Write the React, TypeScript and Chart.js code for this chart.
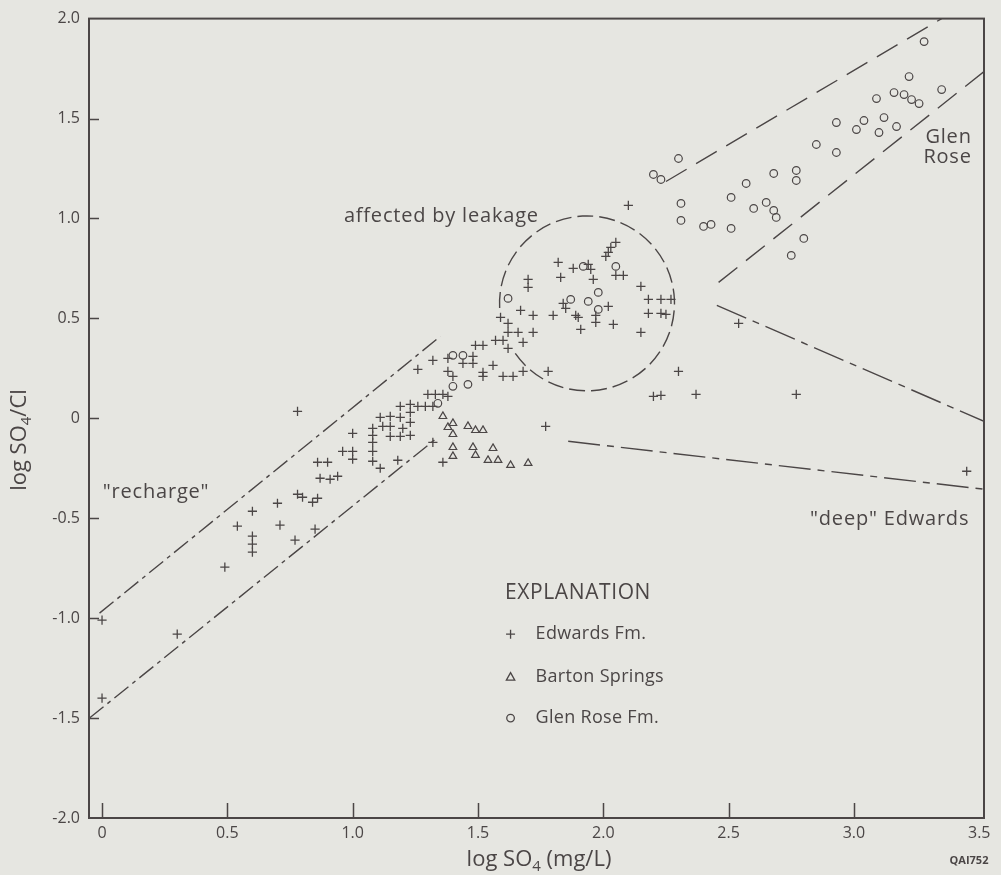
import React, { useEffect, useRef } from "react";
import { Chart, registerables } from "chart.js";

Chart.register(...registerables);

// ---------------- data ----------------
const edwardsFm: [number, number][] = [
  [0.0, -1.01], [0.0, -1.4], [0.3, -1.08], [0.49, -0.745], [0.54, -0.54], [0.6, -0.465], [0.6, -0.59], [0.6, -0.63], [0.6, -0.67],
  [0.7, -0.425], [0.71, -0.535], [0.77, -0.61], [0.78, 0.035], [0.78, -0.38], [0.8, -0.395], [0.84, -0.42], [0.86, -0.4], [0.85, -0.555],
  [0.86, -0.22], [0.9, -0.22], [0.87, -0.3], [0.91, -0.305], [0.94, -0.29], [0.96, -0.165], [1.0, -0.165], [1.0, -0.205], [1.0, -0.075],
  [1.08, -0.05], [1.08, -0.085], [1.08, -0.12], [1.08, -0.165], [1.08, -0.215], [1.11, -0.25], [1.18, -0.21], [1.11, 0.005], [1.15, 0.01],
  [1.19, 0.005], [1.12, -0.04], [1.15, -0.04], [1.15, -0.09], [1.19, -0.09], [1.23, -0.085], [1.2, -0.05], [1.19, 0.06], [1.23, 0.07],
  [1.26, 0.06], [1.29, 0.06], [1.32, 0.06], [1.23, 0.03], [1.23, -0.02], [1.32, -0.12], [1.36, -0.22], [1.26, 0.245], [1.32, 0.29],
  [1.38, 0.3], [1.38, 0.235], [1.4, 0.21], [1.3, 0.12], [1.33, 0.12], [1.36, 0.12], [1.38, 0.11], [1.48, 0.31], [1.48, 0.275],
  [1.44, 0.275], [1.52, 0.23], [1.52, 0.21], [1.56, 0.265], [1.6, 0.21], [1.64, 0.21], [1.68, 0.235], [1.78, 0.235], [1.49, 0.365],
  [1.52, 0.365], [1.57, 0.39], [1.6, 0.39], [1.62, 0.35], [1.68, 0.38], [1.62, 0.43], [1.66, 0.43], [1.72, 0.43], [1.62, 0.475],
  [1.59, 0.505], [1.67, 0.54], [1.72, 0.515], [1.8, 0.515], [1.84, 0.575], [1.85, 0.55], [1.89, 0.515], [1.9, 0.505], [1.91, 0.445],
  [1.97, 0.515], [1.97, 0.48], [2.02, 0.56], [2.04, 0.47], [1.82, 0.78], [1.88, 0.75], [1.94, 0.77], [1.95, 0.745], [1.83, 0.705],
  [1.96, 0.695], [1.7, 0.695], [1.7, 0.655], [2.05, 0.88], [2.03, 0.855], [2.02, 0.83], [2.01, 0.81], [2.05, 0.715], [2.08, 0.715],
  [2.15, 0.66], [2.15, 0.43], [2.18, 0.595], [2.23, 0.595], [2.27, 0.595], [2.18, 0.525], [2.23, 0.525], [2.25, 0.52], [2.1, 1.065],
  [2.3, 0.235], [2.2, 0.11], [2.23, 0.115], [2.37, 0.12], [2.54, 0.475], [2.77, 0.12], [3.45, -0.265], [1.77, -0.04],
];

const bartonSprings: [number, number][] = [
  [1.36, 0.01], [1.38, -0.045], [1.4, -0.025], [1.4, -0.08], [1.46, -0.04], [1.49, -0.06], [1.52, -0.06], [1.4, -0.145],
  [1.4, -0.19], [1.48, -0.145], [1.49, -0.185], [1.56, -0.15], [1.54, -0.21], [1.58, -0.21], [1.63, -0.235], [1.7, -0.225],
];

const glenRoseFm: [number, number][] = [
  [1.4, 0.315], [1.44, 0.315], [1.4, 0.16], [1.46, 0.17], [1.34, 0.075], [1.62, 0.6], [1.92, 0.76], [2.05, 0.76], [1.98, 0.63],
  [1.87, 0.595], [1.94, 0.585], [1.98, 0.545], [2.31, 1.075], [2.31, 0.99], [2.4, 0.96], [2.43, 0.97], [2.3, 1.3], [2.2, 1.22],
  [2.23, 1.195], [2.51, 1.105], [2.51, 0.95], [2.57, 1.175], [2.6, 1.05], [2.65, 1.08], [2.68, 1.04], [2.69, 1.005], [2.68, 1.225],
  [2.77, 1.24], [2.77, 1.19], [2.8, 0.9], [2.75, 0.815], [2.85, 1.37], [2.93, 1.48], [2.93, 1.33], [3.04, 1.49], [3.01, 1.445],
  [3.12, 1.505], [3.1, 1.43], [3.17, 1.46], [3.09, 1.6], [3.16, 1.63], [3.2, 1.62], [3.23, 1.595], [3.26, 1.575], [3.22, 1.71],
  [3.35, 1.645], [3.28, 1.885],
];

// boundary lines (endpoints in data units)
const rechargeUpper: [number, number][] = [[-0.01, -0.975], [1.35, 0.41]];
const rechargeLower: [number, number][] = [[-0.05, -1.5], [1.33, -0.105]];
const glenRoseUpper: [number, number][] = [[2.25, 1.185], [3.35, 2.0]];
const glenRoseLower: [number, number][] = [[2.46, 0.68], [3.519, 1.735]];
const deepUpper: [number, number][] = [[2.453, 0.565], [3.519, -0.015]];
const deepLower: [number, number][] = [[1.86, -0.115], [3.519, -0.355]];

// leakage ellipse (data units), gap in canvas degrees
const leakageCenter = [1.935, 0.575];
const leakageRadius = [0.349, 0.4375];
const leakageGapDeg = [148, 177];

const xTickValues = [0, 0.5, 1.0, 1.5, 2.0, 2.5, 3.0, 3.5];
const yTickValues = [-2.0, -1.5, -1.0, -0.5, 0, 0.5, 1.0, 1.5, 2.0];
const xTickMarks = [0, 0.5, 1.0, 1.5, 2.0, 2.5, 3.0];
const yTickMarks = [-1.5, -1.0, -0.5, 0, 0.5, 1.0, 1.5];

const xLimits = [-0.052, 3.519];
const yLimits = [-2.0, 2.0];

const annotations = [
  { text: "affected by leakage", x: 0.965, y: 1.01, align: "left" },
  { text: "\"recharge\"", x: 0.003, y: -0.37, align: "left" },
  { text: "\"deep\" Edwards", x: 2.825, y: -0.505, align: "left" },
  { text: "Glen", x: 3.47, y: 1.405, align: "right" },
  { text: "Rose", x: 3.47, y: 1.305, align: "right" },
];

const legendTitle = { text: "EXPLANATION", x: 1.608, y: -0.875 };
const legendItems = [
  { label: "Edwards Fm.", marker: "cross", y: -1.08 },
  { label: "Barton Springs", marker: "triangle", y: -1.295 },
  { label: "Glen Rose Fm.", marker: "circle", y: -1.5 },
];
const legendMarkerX = 1.63;
const legendTextX = 1.73;

// ---------------- styles ----------------
const FONT = '"Open Sans", "DejaVu Sans", sans-serif';
const INK = "#4b4646";
const PAPER = "#e6e6e1";
const W = 1001;
const H = 875;

type Run = { t: string; sub?: boolean };

function drawRuns(ctx: CanvasRenderingContext2D, runs: Run[], x: number, y: number, size: number, align: string) {
  const widths = runs.map((r) => {
    ctx.font = `${r.sub ? Math.round(size * 0.7) : size}px ${FONT}`;
    return ctx.measureText(r.t).width;
  });
  const total = widths.reduce((a, b) => a + b, 0);
  let cx = align === "center" ? x - total / 2 : align === "right" ? x - total : x;
  ctx.textAlign = "left";
  ctx.textBaseline = "middle";
  runs.forEach((r, i) => {
    ctx.font = `${r.sub ? Math.round(size * 0.7) : size}px ${FONT}`;
    ctx.fillText(r.t, cx, r.sub ? y + size * 0.32 : y);
    cx += widths[i];
  });
}

function drawMarker(ctx: CanvasRenderingContext2D, kind: string, x: number, y: number) {
  ctx.beginPath();
  if (kind === "cross") {
    ctx.moveTo(x - 4.5, y);
    ctx.lineTo(x + 4.5, y);
    ctx.moveTo(x, y - 4.5);
    ctx.lineTo(x, y + 4.5);
  } else if (kind === "triangle") {
    ctx.moveTo(x, y - 4.5);
    ctx.lineTo(x + 4.2, y + 3);
    ctx.lineTo(x - 4.2, y + 3);
    ctx.closePath();
  } else {
    ctx.arc(x, y, 3.8, 0, Math.PI * 2);
  }
  ctx.stroke();
}

const overlayPlugin = {
  id: "overlay",
  beforeDraw(chart: any) {
    const ctx = chart.ctx;
    ctx.save();
    ctx.fillStyle = PAPER;
    ctx.fillRect(0, 0, chart.width, chart.height);
    ctx.restore();
  },
  afterDatasetsDraw(chart: any) {
    const ctx: CanvasRenderingContext2D = chart.ctx;
    const xs = chart.scales.x;
    const ys = chart.scales.y;
    const { left, right, top, bottom } = chart.chartArea;
    ctx.save();
    ctx.strokeStyle = INK;
    ctx.fillStyle = INK;

    // frame
    ctx.lineWidth = 2;
    ctx.setLineDash([]);
    ctx.strokeRect(left, top, right - left, bottom - top);

    // inward tick marks
    ctx.lineWidth = 1.5;
    ctx.beginPath();
    xTickMarks.forEach((v) => {
      const px = Math.round(xs.getPixelForValue(v)) + 0.5;
      ctx.moveTo(px, bottom);
      ctx.lineTo(px, bottom - 15);
    });
    yTickMarks.forEach((v) => {
      const py = Math.round(ys.getPixelForValue(v)) + 0.5;
      ctx.moveTo(left, py);
      ctx.lineTo(left + 10, py);
    });
    ctx.stroke();

    // leakage ellipse
    const cx = xs.getPixelForValue(leakageCenter[0]);
    const cy = ys.getPixelForValue(leakageCenter[1]);
    const rx = Math.abs(xs.getPixelForValue(leakageCenter[0] + leakageRadius[0]) - cx);
    const ry = Math.abs(ys.getPixelForValue(leakageCenter[1] + leakageRadius[1]) - cy);
    ctx.lineWidth = 1.4;
    ctx.setLineDash([16, 6]);
    ctx.beginPath();
    ctx.ellipse(cx, cy, rx, ry, 0, (leakageGapDeg[1] * Math.PI) / 180, (leakageGapDeg[0] * Math.PI) / 180);
    ctx.stroke();
    ctx.setLineDash([]);

    // annotations
    (ctx as any).letterSpacing = "0.8px";
    annotations.forEach((a) => {
      drawRuns(ctx, [{ t: a.text }], xs.getPixelForValue(a.x), ys.getPixelForValue(a.y), 20, a.align);
    });
    (ctx as any).letterSpacing = "0px";

    // legend
    (ctx as any).letterSpacing = "0.6px";
    drawRuns(ctx, [{ t: legendTitle.text }], xs.getPixelForValue(legendTitle.x), ys.getPixelForValue(legendTitle.y), 21, "left");
    (ctx as any).letterSpacing = "0.3px";
    ctx.lineWidth = 1.3;
    legendItems.forEach((it) => {
      const py = ys.getPixelForValue(it.y);
      drawMarker(ctx, it.marker, xs.getPixelForValue(legendMarkerX), py);
      drawRuns(ctx, [{ t: it.label }], xs.getPixelForValue(legendTextX), py, 18, "left");
    });
    (ctx as any).letterSpacing = "0px";

    // axis titles
    drawRuns(ctx, [{ t: "log SO" }, { t: "4", sub: true }, { t: " (mg/L)" }], 539, 860, 22, "center");
    ctx.save();
    ctx.translate(20, 440);
    ctx.rotate(-Math.PI / 2);
    drawRuns(ctx, [{ t: "log SO" }, { t: "4", sub: true }, { t: "/Cl" }], 0, 0, 22, "center");
    ctx.restore();

    // figure id
    ctx.font = `bold 11px ${FONT}`;
    ctx.textAlign = "center";
    ctx.textBaseline = "middle";
    ctx.fillText("QAI752", 969, 861);

    ctx.restore();
  },
};

const toXY = (pts: [number, number][]) => pts.map(([x, y]) => ({ x, y }));

const lineDs = (pts: [number, number][], dash: number[]) => ({
  data: toXY(pts),
  showLine: true,
  borderColor: INK,
  borderWidth: 1.4,
  borderDash: dash,
  pointRadius: 0,
  fill: false,
});

const fmt = (v: number) => (v === 0 ? "0" : v.toFixed(1));

export default function App() {
  const ref = useRef<HTMLCanvasElement>(null);

  useEffect(() => {
    document.body.style.margin = "0";
    document.body.style.background = PAPER;
    if (!ref.current) return;
    const chart = new Chart(ref.current, {
      type: "scatter",
      data: {
        datasets: [
          {
            label: "Edwards Fm.",
            data: toXY(edwardsFm),
            pointStyle: "cross",
            pointRadius: 4.6,
            borderColor: INK,
            borderWidth: 1.3,
          },
          {
            label: "Barton Springs",
            data: toXY(bartonSprings),
            pointStyle: "triangle",
            pointRadius: 4.4,
            borderColor: INK,
            backgroundColor: "rgba(0,0,0,0)",
            borderWidth: 1.2,
          },
          {
            label: "Glen Rose Fm.",
            data: toXY(glenRoseFm),
            pointStyle: "circle",
            pointRadius: 3.8,
            borderColor: INK,
            backgroundColor: "rgba(0,0,0,0)",
            borderWidth: 1.2,
          },
          lineDs(rechargeUpper, [18, 5, 4, 5]),
          lineDs(rechargeLower, [18, 5, 4, 5]),
          lineDs(glenRoseUpper, [24, 11]),
          lineDs(glenRoseLower, [24, 11]),
          lineDs(deepUpper, [32, 7, 7, 7]),
          lineDs(deepLower, [32, 7, 7, 7]),
        ] as any,
      },
      options: {
        responsive: false,
        animation: false,
        devicePixelRatio: 1,
        layout: { padding: { top: 17, right: 17, left: 0, bottom: 0 } },
        plugins: { legend: { display: false }, tooltip: { enabled: false } },
        scales: {
          x: {
            type: "linear",
            min: xLimits[0],
            max: xLimits[1],
            grid: { display: false, drawTicks: false },
            border: { display: false },
            ticks: {
              color: INK,
              font: { family: FONT, size: 16 },
              padding: 6,
              maxRotation: 0,
              autoSkip: false,
              callback: (v: any) => fmt(Number(v)),
            },
            afterBuildTicks: (s: any) => {
              s.ticks = xTickValues.map((v) => ({ value: v }));
            },
            afterFit: (s: any) => {
              s.height = H - 818;
            },
          },
          y: {
            type: "linear",
            min: yLimits[0],
            max: yLimits[1],
            grid: { display: false, drawTicks: false },
            border: { display: false },
            ticks: {
              color: INK,
              font: { family: FONT, size: 16 },
              padding: 9,
              autoSkip: false,
              callback: (v: any) => fmt(Number(v)),
            },
            afterBuildTicks: (s: any) => {
              s.ticks = yTickValues.map((v) => ({ value: v }));
            },
            afterFit: (s: any) => {
              s.width = 89;
            },
          },
        },
      } as any,
      plugins: [overlayPlugin],
    });
    return () => chart.destroy();
  }, []);

  return (
    <div style={{ width: W, height: H, background: PAPER }}>
      <canvas ref={ref} width={W} height={H} style={{ display: "block" }} />
    </div>
  );
}
